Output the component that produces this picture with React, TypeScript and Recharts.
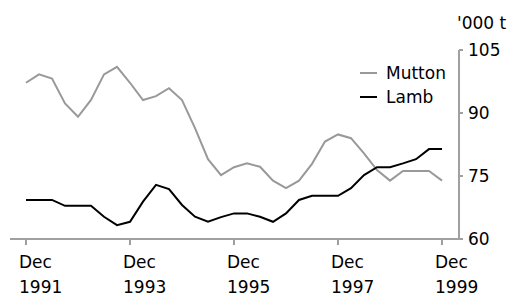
import { LineChart, Line, XAxis, YAxis, Legend } from 'recharts';

const quarters = [
  "Dec 1991", "Mar 1992", "Jun 1992", "Sep 1992",
  "Dec 1992", "Mar 1993", "Jun 1993", "Sep 1993",
  "Dec 1993", "Mar 1994", "Jun 1994", "Sep 1994",
  "Dec 1994", "Mar 1995", "Jun 1995", "Sep 1995",
  "Dec 1995", "Mar 1996", "Jun 1996", "Sep 1996",
  "Dec 1996", "Mar 1997", "Jun 1997", "Sep 1997",
  "Dec 1997", "Mar 1998", "Jun 1998", "Sep 1998",
  "Dec 1998", "Mar 1999", "Jun 1999", "Sep 1999",
  "Dec 1999",
];

// '000 tonnes
const mutton = [
  97.2, 99.2, 98.2, 92.3, 89.1, 93.1, 99.2, 101.0,
  97.2, 93.1, 94.0, 95.9, 93.1, 86.4, 79.0, 75.2,
  77.1, 78.0, 77.2, 73.9, 72.1, 73.9, 77.9, 83.2,
  84.9, 84.0, 80.4, 76.4, 73.9, 76.2, 76.2, 76.2,
  73.9,
];

const lamb = [
  69.3, 69.3, 69.3, 67.9, 67.9, 67.9, 65.3, 63.3,
  64.1, 68.9, 72.9, 71.9, 68.1, 65.3, 64.1, 65.2,
  66.1, 66.1, 65.3, 64.1, 66.1, 69.3, 70.3, 70.3,
  70.3, 72.1, 75.2, 77.1, 77.1, 78.0, 79.0, 81.4,
  81.4,
];

const xTicks = [0, 8, 16, 24, 32];
const yTicks = [60, 75, 90, 105];

const FONT = '"DejaVu Sans", sans-serif';
const AXIS_GREY = "#a0a0a0";

const data = quarters.map((q, i) => ({ idx: i, quarter: q, mutton: mutton[i], lamb: lamb[i] }));

const DateTick = ({ x, y, payload }: any) => {
  const [month, year] = quarters[payload.value].split(" ");
  return (
    <text x={x - 7} y={y} fill="#000" fontSize={17} fontFamily={FONT} textAnchor="start">
      <tspan x={x - 7} dy={21}>{month}</tspan>
      <tspan x={x - 7} dy={25}>{year}</tspan>
    </text>
  );
};

const SeriesLegend = () => (
  <div style={{ fontFamily: FONT, fontSize: 17, color: "#000" }}>
    {[
      { name: "Mutton", color: "#999999" },
      { name: "Lamb", color: "#000000" },
    ].map((s) => (
      <div key={s.name} style={{ display: 'flex', alignItems: 'center', height: 24 }}>
        <span style={{ display: 'inline-block', width: 17, height: 2, background: s.color, marginRight: 9 }} />
        <span>{s.name}</span>
      </div>
    ))}
  </div>
);

export default function App() {
  return (
    <div style={{ position: 'absolute', left: 0, top: 0, width: 519, height: 293, background: '#fff', overflow: 'hidden' }}>
      <div style={{ position: 'absolute', left: 457, top: 13, fontFamily: FONT, fontSize: 17, lineHeight: '20px' }}>
        '000 t
      </div>
      <LineChart width={519} height={293} data={data} margin={{ top: 50, right: 5, left: 10, bottom: 4 }}>
        <XAxis
          dataKey="idx"
          type="number"
          domain={[0, 32]}
          ticks={xTicks}
          padding={{ left: 16, right: 17 }}
          height={50}
          stroke={AXIS_GREY}
          strokeWidth={2}
          tickSize={6}
          tick={<DateTick />}
        />
        <YAxis
          orientation="right"
          domain={[60, 105]}
          ticks={yTicks}
          width={55}
          stroke={AXIS_GREY}
          strokeWidth={2}
          tickSize={4}
          tickMargin={5}
          tick={{ fill: '#000', fontSize: 17, fontFamily: FONT }}
        />
        <Legend
          layout="horizontal"
          verticalAlign="middle"
          align="center"
          content={<SeriesLegend />}
          wrapperStyle={{ top: 61, left: 360, width: 100 }}
        />
        <Line type="linear" dataKey="mutton" name="Mutton" stroke="#999999" strokeWidth={2} dot={false} isAnimationActive={false} />
        <Line type="linear" dataKey="lamb" name="Lamb" stroke="#000000" strokeWidth={2} dot={false} isAnimationActive={false} />
      </LineChart>
    </div>
  );
}
